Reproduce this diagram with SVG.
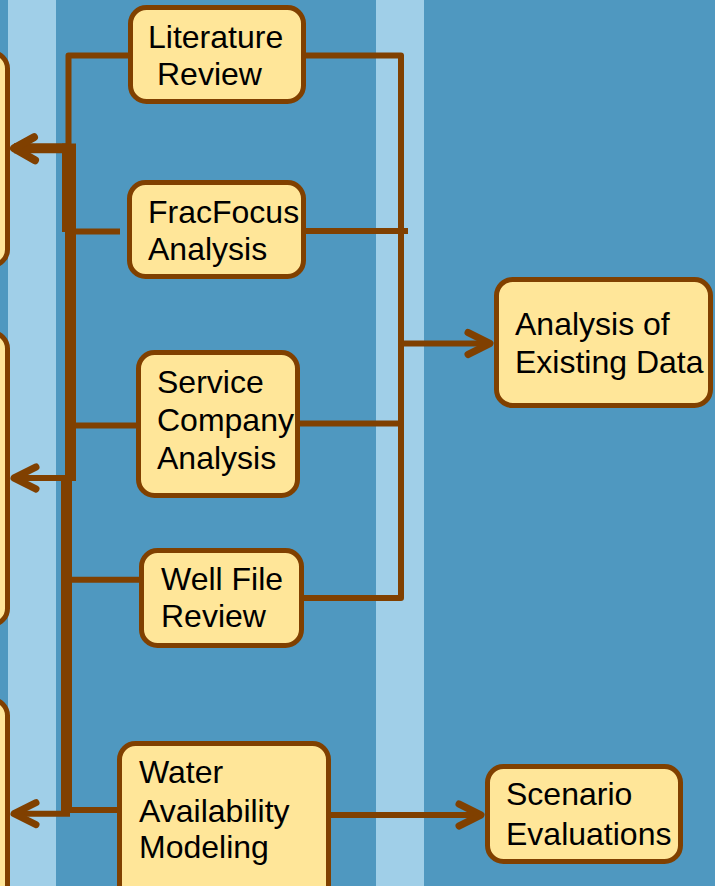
<svg xmlns="http://www.w3.org/2000/svg" width="715" height="886" viewBox="0 0 715 886">
  <defs>
    <style>
      .bg { fill: #4F98C0; }
      .lane { fill: #A0CFE8; }
      .box { fill: #FFE699; stroke: #804000; stroke-width: 5; }
      .lbl { font-family: "Liberation Sans", Arial, sans-serif; font-size: 32px; fill: #000; }
      .wire { fill: none; stroke: #804000; stroke-width: 6; stroke-linejoin: round; }
      .trunk { fill: none; stroke: #804000; stroke-width: 11; stroke-linejoin: round; }
    </style>
    <marker id="chev" markerUnits="userSpaceOnUse" viewBox="-30 -20 40 40" markerWidth="40" markerHeight="40" refX="0" refY="0" orient="auto" overflow="visible">
      <path d="M-22,-11 L0,0 L-22,11" fill="none" stroke="#804000" stroke-width="7" stroke-linecap="round" stroke-linejoin="round"/>
    </marker>
    <marker id="chevBold" markerUnits="userSpaceOnUse" viewBox="-30 -20 40 40" markerWidth="40" markerHeight="40" refX="0" refY="0" orient="auto" overflow="visible">
      <path d="M-21,-12 L0,0 L-20,11" fill="none" stroke="#804000" stroke-width="8" stroke-linecap="round" stroke-linejoin="round"/>
    </marker>
  </defs>

  <!-- background and swimlane strips -->
  <rect class="bg" x="0" y="0" width="715" height="886"/>
  <rect class="lane" x="8" y="0" width="48" height="886"/>
  <rect class="lane" x="376" y="0" width="48" height="886"/>

  <!-- left-hand targets, cut off at the page edge -->
  <g id="left-target-1"><rect class="box" x="-200" y="52.5" width="207.5" height="213" rx="16"/></g>
  <g id="left-target-2"><rect class="box" x="-200" y="332.5" width="207.5" height="292" rx="16"/></g>
  <g id="left-target-3"><rect class="box" x="-200" y="699.5" width="207.5" height="300" rx="16"/></g>

  <!-- connectors -->
  <g id="connectors">
    <!-- right bus into Analysis of Existing Data -->
    <path class="wire" d="M303,55.5 H401 V598 H301" stroke-linejoin="miter"/>
    <path class="wire" d="M303,231 H408"/>
    <path class="wire" d="M296,423.5 H401"/>
    <path class="wire" d="M401,343.5 H490" marker-end="url(#chev)"/>
    <!-- modelling to scenarios -->
    <path class="wire" d="M328,815 H481" marker-end="url(#chev)"/>

    <!-- left bus -->
    <path class="wire" d="M130,55.5 H68.5 V150"/>
    <path fill="none" stroke="#804000" stroke-width="14" stroke-linejoin="round" d="M69,143.5 V232"/>
    <path fill="none" stroke="#804000" stroke-width="10" d="M69,148.3 H14" marker-end="url(#chevBold)"/>
    <path class="wire" d="M120,231.5 H72"/>
    <path class="trunk" d="M70.5,230 V481"/>
    <path class="wire" d="M136,425.5 H74"/>
    <path class="wire" d="M70,478 H14" marker-end="url(#chev)"/>
    <path class="trunk" d="M66.5,478 V811 "/>
    <path class="wire" d="M139,579.7 H70"/>
    <path class="wire" d="M119,810 H70"/>
    <path class="wire" d="M70,813.7 H14" marker-end="url(#chev)"/>
  </g>

  <!-- process boxes -->
  <g id="literature-review">
    <rect class="box" x="130.5" y="7.5" width="173" height="94" rx="16"/>
    <text class="lbl" x="148" y="48">Literature</text>
    <text class="lbl" x="157" y="85">Review</text>
  </g>
  <g id="fracfocus-analysis">
    <rect class="box" x="129.5" y="182.5" width="174" height="94" rx="16"/>
    <text class="lbl" x="148" y="223">FracFocus</text>
    <text class="lbl" x="148" y="260">Analysis</text>
  </g>
  <g id="service-company-analysis">
    <rect class="box" x="138.5" y="352.5" width="159" height="143" rx="16"/>
    <text class="lbl" x="157" y="393">Service</text>
    <text class="lbl" x="157" y="431">Company</text>
    <text class="lbl" x="157" y="469">Analysis</text>
  </g>
  <g id="well-file-review">
    <rect class="box" x="141.5" y="550.5" width="160" height="95" rx="16"/>
    <text class="lbl" x="161" y="590">Well File</text>
    <text class="lbl" x="161" y="627">Review</text>
  </g>
  <g id="water-availability-modeling">
    <rect class="box" x="119.5" y="743.5" width="209" height="160" rx="16"/>
    <text class="lbl" x="139" y="783">Water</text>
    <text class="lbl" x="139" y="822">Availability</text>
    <text class="lbl" x="139" y="858">Modeling</text>
  </g>
  <g id="analysis-of-existing-data">
    <rect class="box" x="496.5" y="279.5" width="214" height="126" rx="16"/>
    <text class="lbl" x="515" y="335">Analysis of</text>
    <text class="lbl" x="515" y="373">Existing Data</text>
  </g>
  <g id="scenario-evaluations">
    <rect class="box" x="487.5" y="766.5" width="193" height="95" rx="16"/>
    <text class="lbl" x="506" y="805">Scenario</text>
    <text class="lbl" x="506" y="845">Evaluations</text>
  </g>
</svg>
